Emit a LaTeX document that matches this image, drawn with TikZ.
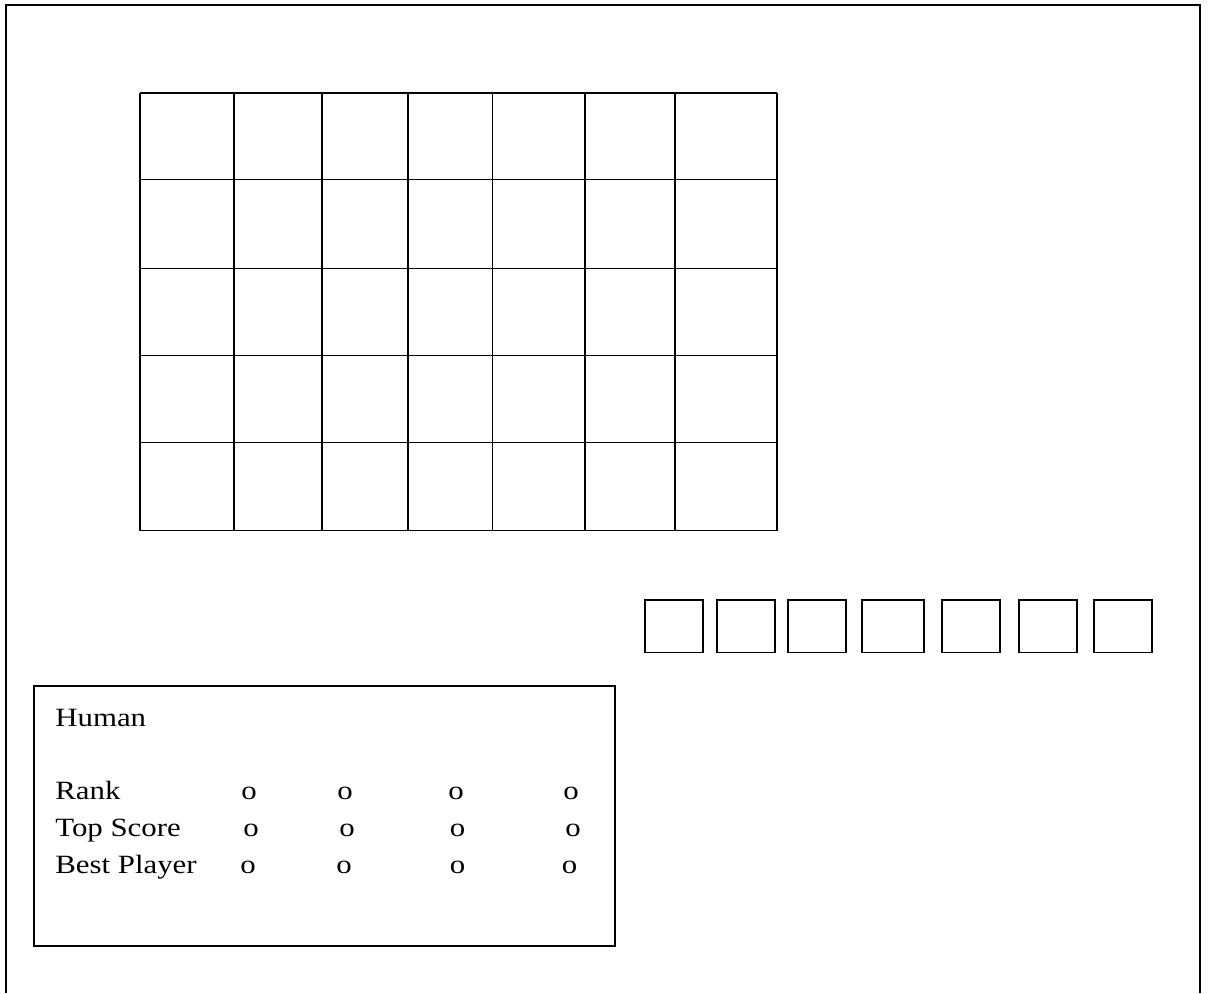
\documentclass[tikz,border=0pt]{standalone}
\usepackage{fontspec}
\setmainfont{Liberation Serif}[FakeStretch=1.17]
\usetikzlibrary{positioning}
\tikzset{
  frameline/.style={line width=1.1pt,black},
  gridline/.style={line width=1.1pt,black},
  tilebox/.style={line width=1.1pt,black},
  paneltext/.style={font=\fontsize{15}{18}\selectfont,inner sep=0pt,anchor=base west},
  dotmark/.style={font=\fontsize{15}{18}\selectfont,inner sep=0pt,anchor=base},
}

\begin{document}
\begin{tikzpicture}[x=0.02cm,y=-0.02cm]
  \useasboundingbox (0,0) rectangle (1209,993);
  % outer frame, open at the bottom
  \coordinate (fbl) at (6,993);
  \coordinate (ftl) at (6,5);
  \coordinate (ftr) at (1200,5);
  \coordinate (fbr) at (1200,993);
  \draw[frameline] (fbl) -- (ftl) -- (ftr) -- (fbr);
  % board
  \foreach \gx in {140,234,322,408,492.5,585,675,777}
    \draw[gridline] (\gx,93) -- (\gx,530.5);
  \foreach \gy in {93,179.5,268.5,355.5,442.5,530.5}
    \draw[gridline] (140,\gy) -- (777,\gy);
  % tile rack
  \foreach \ta/\tb in {644.7/703,716.7/775.3,787.7/846,861.7/924.3,
                       942/1000.3,1019/1076.7,1094/1152.3}
    \draw[tilebox] (\ta,600) rectangle (\tb,652.5);
  % score panel
  \draw[frameline] (34,686) rectangle (615,946);
  \node[paneltext] (human) at (55,726) {Human};
  \node[paneltext] (rank) at (55,799) {Rank};
  \node[paneltext] (topscore) at (55,836) {Top Score};
  \node[paneltext] (bestplayer) at (55,873) {Best Player};
  \foreach \ox [count=\i] in {249,345,456,571}
    \node[dotmark] (rankdot\i) at (\ox,799) {o};
  \foreach \ox [count=\i] in {251,347,457.5,573}
    \node[dotmark] (topdot\i) at (\ox,836) {o};
  \foreach \ox [count=\i] in {248,344,457.5,569.5}
    \node[dotmark] (bestdot\i) at (\ox,873) {o};
\end{tikzpicture}
\end{document}
